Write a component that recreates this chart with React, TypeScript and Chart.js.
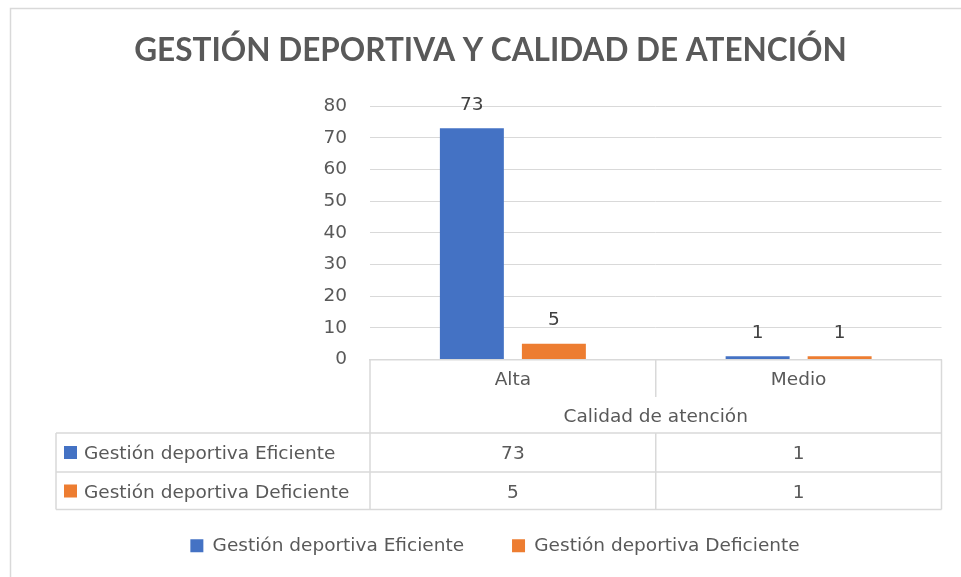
import React, { useEffect, useRef } from "react";
import { Chart, registerables } from "chart.js";

Chart.register(...registerables);

const TITLE = "GESTIÓN DEPORTIVA Y CALIDAD DE ATENCIÓN";
const AXIS_TITLE = "Calidad de atención";
const CATEGORIES = ["Alta", "Medio"];
const SERIES_NAMES = ["Gestión deportiva Eficiente", "Gestión deportiva Deficiente"];
const EFICIENTE = [73, 1];
const DEFICIENTE = [5, 1];
const Y_MIN = 0;
const Y_MAX = 80;
const Y_STEP = 10;

const SERIES = [EFICIENTE, DEFICIENTE];
const COLORS = ["#4472C4", "#ED7D31"];
const TEXT = "#595959";
const LINE = "#d9d9d9";
const FONT = "'DejaVu Sans'";
const TITLE_FONT = "Lato";
const FS = 18.5;

const framePlugin = {
  id: "frame",
  beforeDraw(chart: any) {
    const { ctx, width, height } = chart;
    ctx.save();
    ctx.fillStyle = "#ffffff";
    ctx.fillRect(0, 0, width, height);
    ctx.strokeStyle = LINE;
    ctx.lineWidth = 1.5;
    ctx.beginPath();
    ctx.moveTo(10.5, height + 2);
    ctx.lineTo(10.5, 8.5);
    ctx.lineTo(width + 2, 8.5);
    ctx.stroke();
    // title
    ctx.font = `bold 30px ${TITLE_FONT}`;
    const w = ctx.measureText(TITLE).width;
    const size = (30 * 713) / w;
    ctx.font = `bold ${size}px ${TITLE_FONT}`;
    ctx.fillStyle = TEXT;
    ctx.textAlign = "center";
    ctx.textBaseline = "alphabetic";
    ctx.fillText(TITLE, 490.5, 61);
    ctx.restore();
  },
};

const valueLabelPlugin = {
  id: "valueLabels",
  afterDatasetsDraw(chart: any) {
    const { ctx } = chart;
    ctx.save();
    ctx.font = `${FS}px ${FONT}`;
    ctx.fillStyle = "#404040";
    ctx.textAlign = "center";
    ctx.textBaseline = "alphabetic";
    chart.data.datasets.forEach((ds: any, di: number) => {
      const meta = chart.getDatasetMeta(di);
      meta.data.forEach((bar: any, i: number) => {
        ctx.fillText(String(ds.data[i]), bar.x, bar.y - 18.5);
      });
    });
    ctx.restore();
  },
};

const tablePlugin = {
  id: "dataTable",
  afterDraw(chart: any) {
    const { ctx, chartArea: ca } = chart;
    const x = chart.scales.x;
    const b = ca.bottom;
    const centers = CATEGORIES.map((_, i) => x.getPixelForValue(i));
    const inner: number[] = [];
    for (let i = 1; i < centers.length; i++) inner.push((centers[i - 1] + centers[i]) / 2);
    const hdr = b + 37.5;
    const r1 = b + 73.5;
    const r2 = b + 112.5;
    const r3 = b + 150;
    const tableLeft = 56;

    ctx.save();
    ctx.strokeStyle = LINE;
    ctx.lineWidth = 1.5;
    const line = (x1: number, y1: number, x2: number, y2: number) => {
      ctx.beginPath();
      ctx.moveTo(x1, y1);
      ctx.lineTo(x2, y2);
      ctx.stroke();
    };
    line(ca.left, b, ca.left, r3);
    line(ca.right, b, ca.right, r3);
    inner.forEach((s) => {
      line(s, b, s, hdr);
      line(s, r1, s, r3);
    });
    line(tableLeft, r1, ca.right, r1);
    line(tableLeft, r2, ca.right, r2);
    line(tableLeft, r3, ca.right, r3);
    line(tableLeft, r1, tableLeft, r3);

    ctx.font = `${FS}px ${FONT}`;
    ctx.fillStyle = TEXT;
    ctx.textAlign = "center";
    ctx.textBaseline = "alphabetic";
    CATEGORIES.forEach((c, i) => ctx.fillText(c, centers[i], b + 25.5));
    ctx.fillText(AXIS_TITLE, (ca.left + ca.right) / 2, b + 62);

    const baselines = [b + 99.5, b + 138];
    SERIES.forEach((vals, si) => {
      const yb = baselines[si];
      ctx.fillStyle = TEXT;
      ctx.textAlign = "center";
      vals.forEach((v, i) => ctx.fillText(String(v), centers[i], yb));
      ctx.fillStyle = COLORS[si];
      ctx.fillRect(64, yb - 13, 13, 13);
      ctx.fillStyle = TEXT;
      ctx.textAlign = "left";
      ctx.fillText(SERIES_NAMES[si], 84, yb);
    });
    ctx.restore();
  },
};

export default function App() {
  const ref = useRef<HTMLCanvasElement | null>(null);
  useEffect(() => {
    if (!ref.current) return;
    const padLeft = 48.5;
    const chart = new Chart(ref.current, {
      type: "bar",
      data: {
        labels: CATEGORIES,
        datasets: SERIES.map((vals, i) => ({
          label: SERIES_NAMES[i],
          data: vals,
          backgroundColor: COLORS[i],
          borderWidth: 0,
          categoryPercentage: 0.574,
          barPercentage: 0.78,
        })),
      },
      options: {
        responsive: false,
        animation: false,
        devicePixelRatio: 1,
        layout: { padding: { left: padLeft, right: 19.5, top: 106, bottom: 12 } },
        plugins: {
          title: { display: false },
          tooltip: { enabled: false },
          legend: {
            position: "bottom",
            labels: {
              boxWidth: 13,
              boxHeight: 13,
              padding: 48,
              color: TEXT,
              font: { family: FONT, size: FS },
            },
          },
        },
        scales: {
          x: {
            ticks: { display: false },
            grid: { display: false },
            border: { display: true, color: LINE, width: 1.5 },
            afterFit: (s: any) => {
              s.height = 129;
            },
          },
          y: {
            min: Y_MIN,
            max: Y_MAX,
            ticks: {
              stepSize: Y_STEP,
              color: TEXT,
              font: { family: FONT, size: FS },
              padding: 23,
            },
            grid: { color: LINE, lineWidth: 1, drawTicks: false },
            border: { display: false },
            afterFit: (s: any) => {
              s.width = 370 - padLeft;
            },
          },
        },
      },
      plugins: [framePlugin, valueLabelPlugin, tablePlugin],
    });
    return () => chart.destroy();
  }, []);
  return (
    <div style={{ position: "absolute", left: 0, top: 0, width: 961, height: 577, background: "#fff" }}>
      <canvas ref={ref} width={961} height={577} style={{ display: "block" }} />
    </div>
  );
}
